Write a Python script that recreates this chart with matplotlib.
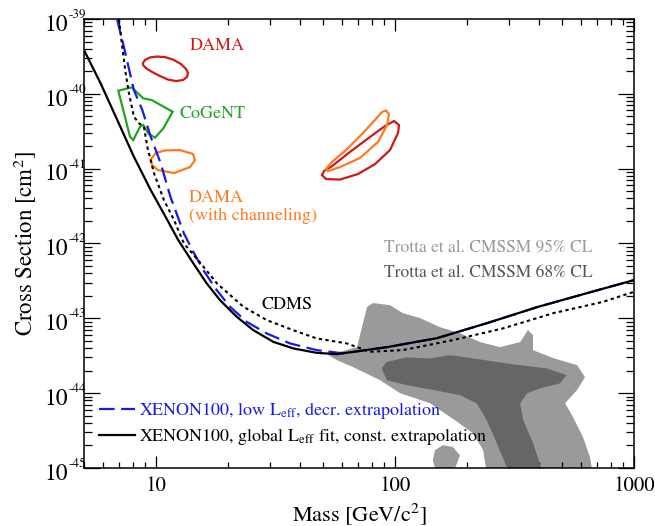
import matplotlib
matplotlib.use("Agg")
import matplotlib.pyplot as plt
import matplotlib.transforms as mtrans
from matplotlib.ticker import LogLocator, NullFormatter
from matplotlib.lines import Line2D

plt.rcParams['font.family'] = ['STIXGeneral', 'DejaVu Serif']
plt.rcParams['mathtext.fontset'] = 'stix'

# XENON100, global Leff fit, const. extrapolation (solid black)
xe_const_mass = [5.0, 5.87, 6.89, 8.09, 9.51, 11.16, 12.40, 14.34, 16.31, 18.54, 21.77, 25.54,
                 30.98, 37.55, 47.0, 57.0, 92.7, 150, 243, 393, 636, 1000]
xe_const_xs = [3.85e-40, 1.38e-40, 4.47e-41, 1.44e-41, 5.18e-42, 2.06e-42, 1.11e-42, 5.42e-43,
               2.93e-43, 1.75e-43, 1.05e-43, 6.95e-44, 4.85e-44, 3.96e-44, 3.46e-44, 3.32e-44,
               4.12e-44, 5.43e-44, 8.63e-44, 1.41e-43, 2.17e-43, 3.24e-43]

# XENON100, low Leff, decr. extrapolation (blue dashed)
xe_low_mass = [6.87, 7.23, 8.09, 8.77, 9.51, 10.47, 11.5, 13.1, 14.2, 15.78, 17.96, 20.41,
               23.97, 29.06, 36.39, 47.0, 60.8, 92.7, 150, 243, 393, 636, 1000]
xe_low_xs = [1.0e-39, 5.24e-40, 1.12e-40, 6.07e-41, 2.67e-41, 1.18e-41, 4.21e-42, 1.36e-42,
             8.16e-43, 4.41e-43, 2.38e-43, 1.43e-43, 8.98e-44, 6.29e-44, 4.62e-44, 3.76e-44,
             3.40e-44, 4.12e-44, 5.43e-44, 8.63e-44, 1.41e-43, 2.17e-43, 3.24e-43]

# CDMS (dotted)
cdms_mass = [7.0, 7.23, 7.47, 7.71, 8.09, 8.50, 8.91, 9.2, 9.82, 10.8, 11.9, 13.1, 15.0, 18.0,
             23.2, 29.1, 37.5, 47.0, 62.9, 78.6, 108, 175, 283, 459, 742, 1000]
cdms_xs = [1.0e-39, 4.26e-40, 1.88e-40, 1.02e-40, 4.94e-41, 4.03e-41, 3.63e-41, 1.96e-41,
           8.65e-42, 3.80e-42, 2.06e-42, 1.00e-42, 6.0e-43, 2.93e-43, 1.43e-43, 9.46e-44,
           6.95e-44, 5.39e-44, 4.62e-44, 3.57e-44, 3.76e-44, 5.12e-44, 7.33e-44, 1.17e-43,
           1.66e-43, 2.26e-43]

# DAMA (no channeling), low mass island
dama_lo_mass = [8.83, 9.00, 9.44, 10.10, 10.91, 11.79, 12.73, 13.36, 13.62, 13.49, 12.98, 12.13,
                11.23, 10.40, 9.63, 9.09, 8.83]
dama_lo_xs = [2.58e-40, 2.83e-40, 3.06e-40, 3.15e-40, 3.10e-40, 2.87e-40, 2.50e-40, 2.15e-40,
              1.90e-40, 1.68e-40, 1.53e-40, 1.48e-40, 1.55e-40, 1.73e-40, 1.96e-40, 2.21e-40,
              2.43e-40]

# DAMA (no channeling), high mass island
dama_hi_mass = [49.5, 51.5, 58.9, 70.0, 82.5, 95.3, 103, 104, 99.1, 90.9, 78.6, 64.8, 54.5, 50.5]
dama_hi_xs = [8.21e-42, 7.26e-42, 7.15e-42, 8.47e-42, 1.15e-41, 1.77e-41, 2.99e-41, 3.83e-41,
              4.33e-41, 3.71e-41, 2.65e-41, 1.67e-41, 1.08e-41, 9.29e-42]

# DAMA with channeling
damach_lo_mass = [9.53, 10.0, 10.91, 12.61, 14.29, 14.57, 13.89, 11.90, 10.2, 9.62]
damach_lo_xs = [1.34e-41, 1.62e-41, 1.75e-41, 1.77e-41, 1.57e-41, 1.30e-41, 1.05e-41, 8.73e-42,
                9.58e-42, 1.12e-41]
damach_hi_mass = [51.5, 54.5, 61.8, 72.8, 82.5, 88.3, 91.7, 94.4, 92.7, 84.9, 71.4, 58.9, 52.5]
damach_hi_xs = [9.89e-42, 1.23e-41, 1.72e-41, 2.90e-41, 4.47e-41, 5.71e-41, 5.98e-41, 5.37e-41,
                3.83e-41, 2.27e-41, 1.39e-41, 1.05e-41, 9.29e-42]

# CoGeNT
cogent_mass = [6.96, 7.92, 8.85, 9.60, 11.75, 10.74, 9.91, 9.29, 8.85, 8.58, 8.04, 7.79, 7.42]
cogent_xs = [1.10e-40, 1.22e-40, 8.71e-41, 8.26e-41, 5.76e-41, 3.46e-41, 2.59e-41, 2.96e-41,
             3.83e-41, 3.63e-41, 2.41e-41, 2.67e-41, 4.94e-41]

# Trotta et al. CMSSM 95% CL
cmssm95_mass = [52.5, 69.4, 76.4, 80.9, 95.3, 108, 127, 154, 187, 227, 275, 334, 360, 378, 378,
                459, 578, 624, 578, 515, 556, 612, 655, 674, 243, 234, 212, 178, 140, 105,
                86.6, 66.8, 57.2]
cmssm95_xs = [3.22e-44, 4.12e-44, 1.41e-43, 1.60e-43, 1.50e-43, 1.17e-43, 1.01e-43, 7.63e-44,
              6.34e-44, 4.81e-44, 4.12e-44, 4.81e-44, 6.95e-44, 5.96e-44, 3.76e-44, 2.94e-44,
              2.37e-44, 1.64e-44, 1.10e-44, 7.35e-45, 4.78e-45, 2.58e-45, 1.39e-45, 8e-46,
              8e-46, 1.73e-45, 2.92e-45, 4.36e-45, 7.35e-45, 1.0e-44, 1.49e-44, 2.23e-44,
              2.76e-44]
cmssm95_blob_mass = [147, 159, 175, 187, 182, 173, 150, 144]
cmssm95_blob_xs = [1.73e-45, 2.02e-45, 1.90e-45, 1.48e-45, 1.16e-45, 8e-46, 8e-46, 1.27e-45]

# Trotta et al. CMSSM 68% CL
cmssm68_mass = [88.0, 92.4, 112, 140, 170, 213, 294, 432, 523, 490, 405, 356, 334, 344, 379,
                418, 303, 267, 242, 220, 187, 145, 112, 92.4]
cmssm68_xs = [2.14e-44, 2.62e-44, 3.00e-44, 2.91e-44, 3.22e-44, 2.91e-44, 2.49e-44, 2.14e-44,
              1.74e-44, 1.35e-44, 1.16e-44, 9.9e-45, 7.28e-45, 4.36e-45, 2.13e-45, 8e-46, 8e-46,
              2.13e-45, 4.36e-45, 7.28e-45, 9.4e-45, 1.10e-44, 1.28e-44, 1.49e-44]

y_exponents = [-45, -44, -43, -42, -41, -40, -39]
x_ticks = [10, 100, 1000]

legend_labels = ["XENON100, low L$_{\\rm eff}$, decr. extrapolation",
                 "XENON100, global L$_{\\rm eff}$ fit, const. extrapolation"]

RED = "#d01818"
ORANGE = "#ff7a1e"
GREEN = "#22a322"
BLUE = "#1a1ae6"

fig = plt.figure(figsize=(6.55, 5.26), dpi=100)
ax = fig.add_axes([0.1282, 0.1103, 0.8397, 0.8536])

# CMSSM regions
ax.fill(cmssm95_mass, cmssm95_xs, color="#9a9a9a", lw=0, zorder=1)
ax.fill(cmssm95_blob_mass, cmssm95_blob_xs, color="#9a9a9a", lw=0, zorder=1)
ax.fill(cmssm68_mass, cmssm68_xs, color="#666666", lw=0, zorder=2)

# signal regions
ax.fill(dama_lo_mass, dama_lo_xs, fill=False, ec=RED, lw=1.6, zorder=3)
ax.fill(dama_hi_mass, dama_hi_xs, fill=False, ec=RED, lw=1.6, zorder=3)
ax.fill(damach_lo_mass, damach_lo_xs, fill=False, ec=ORANGE, lw=1.6, zorder=3)
ax.fill(damach_hi_mass, damach_hi_xs, fill=False, ec=ORANGE, lw=1.6, zorder=3)
ax.fill(cogent_mass, cogent_xs, fill=False, ec=GREEN, lw=1.6, zorder=3)

# exclusion limits
ax.plot(xe_low_mass, xe_low_xs, color=BLUE, lw=1.6, ls=(0, (7, 3)), zorder=4)
ax.plot(xe_const_mass, xe_const_xs, color="black", lw=1.6, zorder=5)
ax.plot(cdms_mass, cdms_xs, color="black", lw=1.5, ls=(0, (1.6, 1.6)), zorder=6)

ax.set_xscale("log")
ax.set_yscale("log")
ax.set_xlim(5, 1000)
ax.set_ylim(1e-45, 1e-39)

y_ticks = [10.0 ** e for e in y_exponents]
ax.set_yticks(y_ticks)
ax.set_yticklabels(["10"] * len(y_ticks))
ax.yaxis.set_minor_locator(LogLocator(base=10, subs=range(2, 10), numticks=10))
ax.yaxis.set_minor_formatter(NullFormatter())
ax.xaxis.set_minor_formatter(NullFormatter())
ax.set_xticks(x_ticks)
ax.set_xticklabels([str(t) for t in x_ticks])

ax.tick_params(which="both", direction="in", top=True, right=True, width=0.9)
ax.tick_params(axis="x", which="major", length=8.5, labelsize=15, pad=6)
ax.tick_params(axis="x", which="minor", length=4.5)
ax.tick_params(axis="y", which="major", length=11.5, labelsize=17, pad=11.5)
ax.tick_params(axis="y", which="minor", length=6)
for sp in ax.spines.values():
    sp.set_linewidth(1.1)

# nudge the "10" down a bit and put a small exponent beside it
shift = mtrans.ScaledTranslation(0, -3.5 / 100, fig.dpi_scale_trans)
for lbl in ax.get_yticklabels():
    lbl.set_transform(lbl.get_transform() + shift)
for e, v in zip(y_exponents, y_ticks):
    ax.annotate(str(e), xy=(0, v), xycoords=("axes fraction", "data"),
                xytext=(-11.4, 0.8), textcoords="offset points",
                ha="left", va="baseline", fontsize=9.5)

ax.set_xlabel("Mass [GeV/c$^2$]", fontsize=16, labelpad=4)
ax.set_ylabel("Cross Section [cm$^2$]", fontsize=16.5)
ax.yaxis.set_label_coords(-0.084, 0.5)

# annotations
ax.text(0.242, 0.940, "DAMA", color=RED, fontsize=13, ha="center", va="center",
        transform=ax.transAxes)
ax.text(0.173, 0.788, "CoGeNT", color=GREEN, fontsize=13, ha="left", va="center",
        transform=ax.transAxes)
ax.text(0.191, 0.601, "DAMA", color=ORANGE, fontsize=13, ha="left", va="center",
        transform=ax.transAxes)
ax.text(0.191, 0.561, "(with channeling)", color=ORANGE, fontsize=13, ha="left", va="center",
        transform=ax.transAxes)
ax.text(0.370, 0.363, "CDMS", color="black", fontsize=13, ha="center", va="center",
        transform=ax.transAxes)
ax.text(0.925, 0.490, "Trotta et al. CMSSM 95% CL", color="#999999", fontsize=12.5,
        ha="right", va="center", transform=ax.transAxes)
ax.text(0.925, 0.434, "Trotta et al. CMSSM 68% CL", color="#555555", fontsize=12.5,
        ha="right", va="center", transform=ax.transAxes)

handles = [Line2D([], [], color=BLUE, lw=1.6, ls=(0, (7, 3))),
           Line2D([], [], color="black", lw=1.6)]
ax.legend(handles, legend_labels, loc="lower left", bbox_to_anchor=(0.027, 0.047),
          frameon=False, fontsize=13, handlelength=2.0, handletextpad=0.2,
          labelspacing=0.25, borderaxespad=0, borderpad=0,
          labelcolor=[BLUE, "black"])

fig.savefig("out.png", dpi=100)
